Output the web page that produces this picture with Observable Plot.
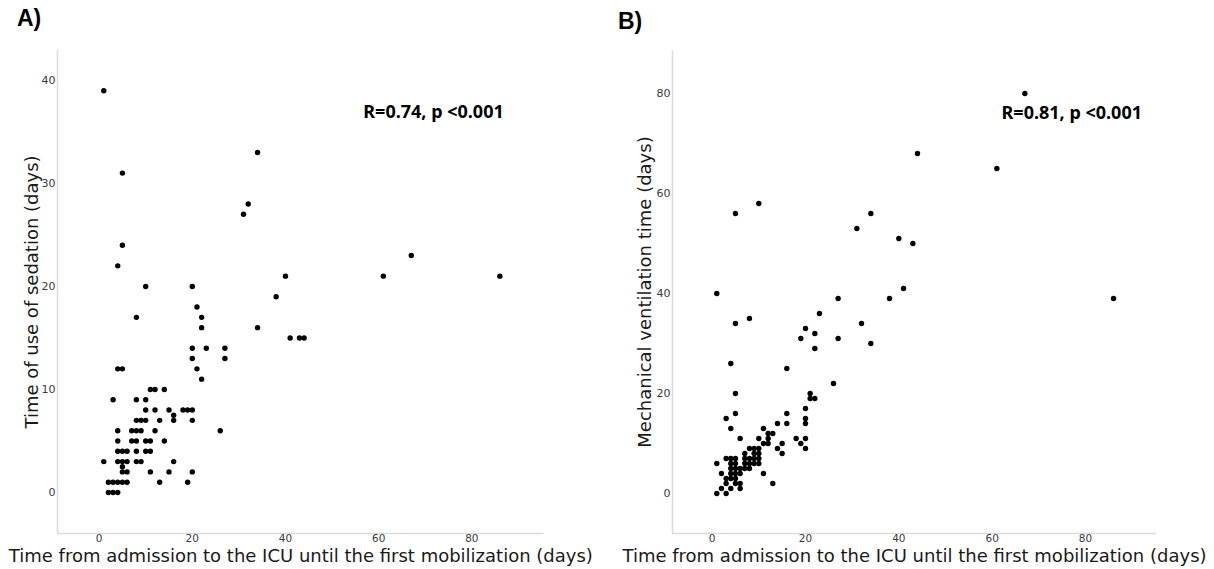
<!DOCTYPE html>
<html><head><meta charset="utf-8">
<script src="https://cdn.jsdelivr.net/npm/d3@7"></script>
<script src="https://cdn.jsdelivr.net/npm/@observablehq/plot@0.6"></script>
<style>
html,body{margin:0;padding:0;background:#fff;width:1214px;height:569px;overflow:hidden;}
#wrap{position:relative;width:1214px;height:569px;}
.panel{position:absolute;top:0;}
.tag{position:absolute;font-family:"Liberation Sans",Arial,sans-serif;font-weight:bold;font-size:23px;color:#000;line-height:1;}
</style></head><body>
<div id="wrap">
  <div id="pa" class="panel" style="left:0px"></div>
  <div id="pb" class="panel" style="left:607px"></div>
  <div class="tag" style="left:17px;top:7px">A)</div>
  <div class="tag" style="left:618px;top:10px">B)</div>
</div>
<script>
// ---- Data ----
const xTitle = "Time from admission to the ICU until the first mobilization (days)";

// Panel A: time to first mobilization vs. time of use of sedation
const sedationX = [2,3,4, 2,3,4,5,6,13,19, 5,6,11,15,20,5, 1,4,5,6,8,9,16, 4,5,6,8,10,11,
  4,7,8,10,11,14, 4,7,8,9,12,26, 8,9,10,13,16,20,16, 10,12,15,18,19,20, 3,8,10, 11,12,14,
  22, 4,5,21, 20,27, 20,23,27, 41,43,44, 22,34, 8,22, 21, 38, 10,20, 40,61,86, 4, 67, 5, 31, 32, 5, 34, 1];
const sedationY = [0,0,0, 1,1,1,1,1,1,1, 2,2,2,2,2,2.5, 3,3,3,3,3,3,3, 4,4,4,4,4,4,
  5,5,5,5,5,5, 6,6,6,6,6,6, 7,7,7,7,7,7,7.5, 8,8,8,8,8,8, 9,9,9, 10,10,10,
  11, 12,12,12, 13,13, 14,14,14, 15,15,15, 16,16, 17,17, 18, 19, 20,20, 21,21,21, 22, 23, 24, 27, 28, 31, 33, 39];

// Panel B: time to first mobilization vs. mechanical ventilation time
const ventX = [67,44,61,34,31,40,43,41,27,38,86,23,32,27,34,26,1,5,8,4,16,20,19,22,22,5,10,
  5,21,21,22,5,16,20,3,20,20,16,4,14,11,12,13,12,6,10,12,18,19,20,20,15,14,15,11,10,8,
  1,3,2,4,6,3,5,6,13,3,4,5,2,4,5,6,11,4,5,6,7,8,1,4,5,7,8,9,10,3,4,5,7,8,9,10,7,9,10,9];
const ventY = [80,68,65,56,53,51,50,41,39,39,39,36,34,31,30,22,40,34,35,26,25,33,31,32,29,56,58,
  20,20,19,19,16,16,17,15,15,14,14,13,14,13,12,12,11,11,11,10,11,10,11,9,10,9,8,10,9,9,
  0,0,1,1,1,2,2,2,2,3,3,3,4,4,4,4,4,5,5,5,5,5,6,6,6,6,6,6,6,7,7,7,7,7,7,7,8,8,8,9];

const xTicks = [0, 20, 40, 60, 80];
const sedationTicks = [0, 10, 20, 30, 40];
const ventTicks = [0, 20, 40, 60, 80];

const notes = ["R=0.74, p <0.001", "R=0.81, p <0.001"];
const yTitles = ["Time of use of sedation (days)", "Mechanical ventilation time (days)"];

// ---- Drawing ----
function panel({xs, ys, xDomain, yDomain, yTicks, yTitle, note, noteAt, mL, mR, titleDx}) {
  const data = xs.map((x, i) => ({x, y: ys[i]}));
  return Plot.plot({
    width: 607, height: 569,
    marginLeft: mL, marginRight: mR, marginTop: 50, marginBottom: 36,
    style: {fontFamily: "DejaVu Sans", fontSize: "11px", background: "transparent", overflow: "visible"},
    x: {domain: xDomain},
    y: {domain: yDomain},
    marks: [
      Plot.ruleX([xDomain[0]], {stroke: "#dcdcdc", strokeWidth: 1.6}),
      Plot.ruleY([yDomain[0]], {stroke: "#dcdcdc", strokeWidth: 1.6}),
      Plot.axisX({ticks: xTicks, tickSize: 0, tickPadding: 1, label: null, color: "#3a3a3a", fontSize: 10.5, tickFormat: d => d}),
      Plot.axisY({ticks: yTicks, tickSize: 0, tickPadding: 2, label: null, color: "#3a3a3a", tickFormat: d => d}),
      Plot.dot(data, {x: "x", y: "y", r: 2.7, fill: "black"}),
      Plot.text([{x: noteAt[0], y: noteAt[1], t: note}], {x: "x", y: "y", text: "t", textAnchor: "start",
        fontFamily: "Noto Sans", fontWeight: "bold", fontSize: 18, fill: "black"}),
      Plot.text([xTitle], {frameAnchor: "bottom", lineAnchor: "middle", textAnchor: "middle", dy: 22.5,
        text: d => d, fontSize: 18, fill: "#1a1a1a"}),
      Plot.text([yTitle], {frameAnchor: "left", lineAnchor: "middle", textAnchor: "middle", rotate: -90, dx: titleDx,
        text: d => d, fontSize: 18, fill: "#1a1a1a"})
    ]
  });
}

document.getElementById("pa").append(panel({
  xs: sedationX, ys: sedationY,
  xDomain: [-8.93, 95.5], yDomain: [-3.98, 42.9],
  yTicks: sedationTicks, yTitle: yTitles[0], note: notes[0], noteAt: [56.7, 36.9],
  mL: 57, mR: 63.4, titleDx: -25
}));
document.getElementById("pb").append(panel({
  xs: ventX, ys: ventY,
  xDomain: [-8.49, 95.2], yDomain: [-8, 88.6],
  yTicks: ventTicks, yTitle: yTitles[1], note: notes[1], noteAt: [62, 76],
  mL: 65, mR: 58, titleDx: -27
}));
</script>
</body></html>
